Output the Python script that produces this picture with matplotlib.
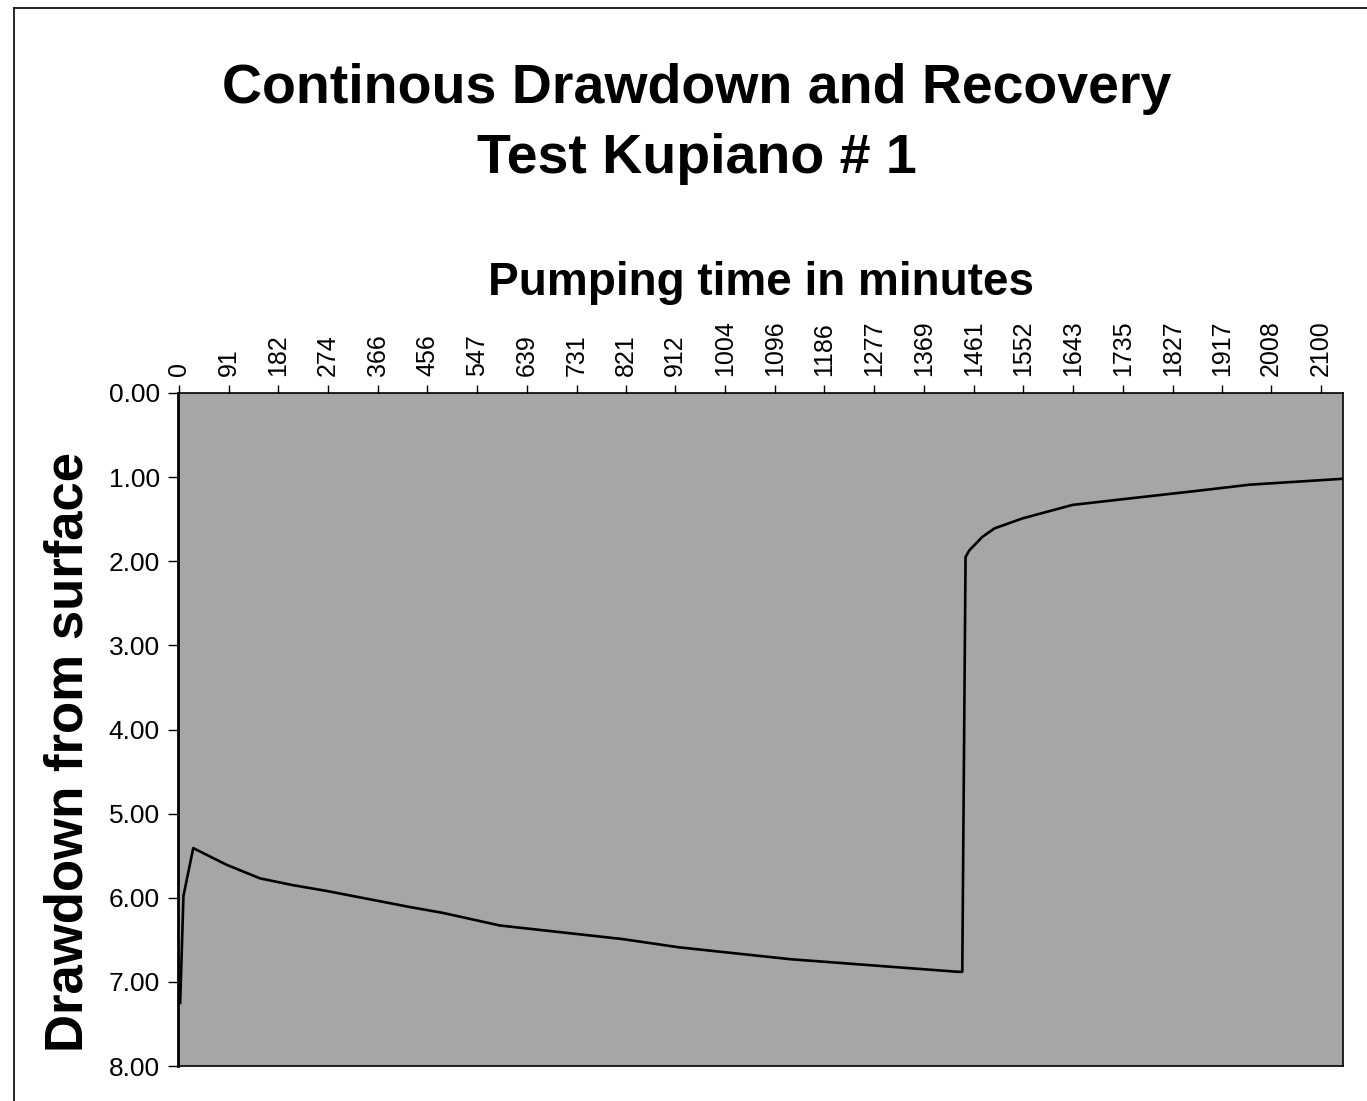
import matplotlib
matplotlib.use("Agg")
import matplotlib.pyplot as plt
from matplotlib.lines import Line2D

# Data (minutes, depth)
time_min = [2, 8, 26, 88, 149, 209, 272, 424, 485, 590, 814, 920, 1123, 1431,
            1440, 1446, 1453, 1477, 1499, 1551, 1643, 1766, 1876, 1968, 2139]
drawdown = [7.25, 5.98, 5.41, 5.61, 5.77, 5.85, 5.92, 6.11, 6.18, 6.33, 6.49, 6.59, 6.73, 6.88,
            6.88, 1.95, 1.87, 1.71, 1.61, 1.49, 1.33, 1.24, 1.16, 1.09, 1.02]

x_ticks = [0, 91, 182, 274, 366, 456, 547, 639, 731, 821, 912, 1004, 1096, 1186,
           1277, 1369, 1461, 1552, 1643, 1735, 1827, 1917, 2008, 2100]
y_ticks = [0, 1, 2, 3, 4, 5, 6, 7, 8]

plt.rcParams['font.family'] = ['Liberation Sans', 'DejaVu Sans']

W, H = 1367, 1101
fig = plt.figure(figsize=(W / 100, H / 100), dpi=100)
ax = fig.add_axes([178 / W, 1 - 1066 / H, (1343 - 178) / W, (1066 - 393) / H])
ax.set_facecolor('#a6a6a6')

ax.plot(time_min, drawdown, color='black', lw=1.9)

ax.set_xlim(-2, 2140)
ax.set_ylim(8, 0)
ax.xaxis.tick_top()
ax.xaxis.set_label_position('top')
ax.set_xticks(x_ticks)
ax.set_xticklabels([str(v) for v in x_ticks], rotation=90, fontsize=18)
ax.set_yticks(y_ticks)
ax.set_yticklabels([f"{v:.2f}" for v in y_ticks], fontsize=19)
ax.tick_params(axis='x', direction='out', length=6, width=1, pad=6)
ax.tick_params(axis='y', direction='out', length=7, width=1, pad=6)
for s in ax.spines.values():
    s.set_color('black')
    s.set_linewidth(1.2)
ax.spines['left'].set_linewidth(2)

ax.set_xlabel('Pumping time in minutes', fontsize=33, fontweight='bold', labelpad=18)
ax.set_ylabel('Drawdown from surface', fontsize=38, fontweight='bold', va='center')
ax.yaxis.set_label_coords(-0.094, 0.467)

fig.text(0.51, 1 - 124 / H, 'Continous Drawdown and Recovery\nTest Kupiano # 1',
         ha='center', va='center', fontsize=40, fontweight='bold', linespacing=1.45)

# page frame
fig.add_artist(Line2D([14 / W, 14 / W], [0, 1 - 8 / H], transform=fig.transFigure, color='black', lw=1.2))
fig.add_artist(Line2D([14 / W, 1], [1 - 8 / H, 1 - 8 / H], transform=fig.transFigure, color='black', lw=1.2))

fig.savefig('out.png', dpi=100)
